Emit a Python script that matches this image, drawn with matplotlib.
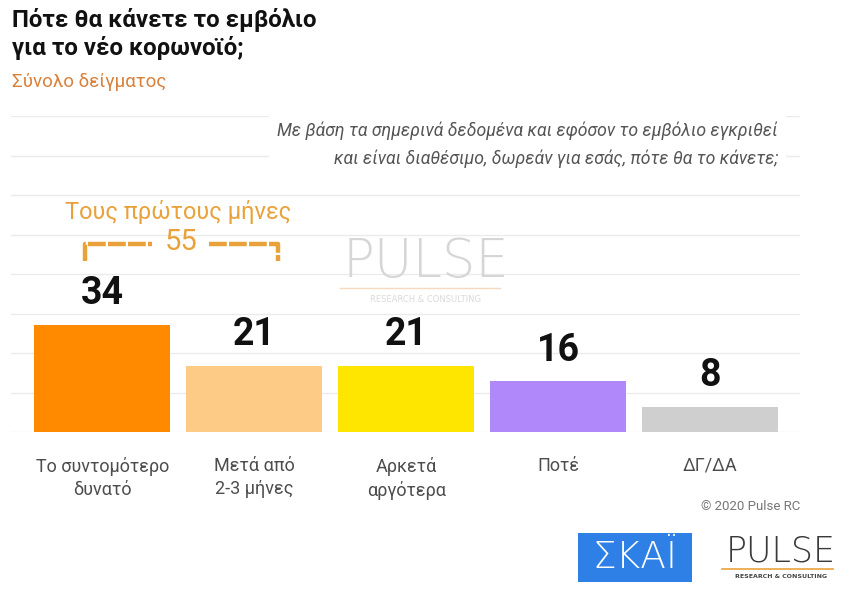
import matplotlib
matplotlib.use("Agg")
import matplotlib.pyplot as plt
from matplotlib.patches import Rectangle
from matplotlib.lines import Line2D

# data
categories = ["Το συντομότερο\nδυνατό", "Μετά από\n2-3 μήνες", "Αρκετά\nαργότερα", "Ποτέ", "ΔΓ/ΔΑ"]
values = [34, 21, 21, 16, 8]
colors = ["#FF8A00", "#FDCB86", "#FFE600", "#B088FA", "#CFCFCF"]

title = "Πότε θα κάνετε το εμβόλιο\nγια το νέο κορωνοϊό;"
subtitle = "Σύνολο δείγματος"
question = "Με βάση τα σημερινά δεδομένα και εφόσον το εμβόλιο εγκριθεί\nκαι είναι διαθέσιμο, δωρεάν για εσάς, πότε θα το κάνετε;"
bracket_label = "Τους πρώτους μήνες"
copyright_txt = "© 2020 Pulse RC"

W, H = 851, 599
FONT = ["Roboto", "DejaVu Sans"]
ORANGE = "#E9A23B"


def px(x, y):
    # pixel position -> figure fraction
    return x / W, 1 - y / H


fig = plt.figure(figsize=(W / 100, H / 100), dpi=100)
fig.patch.set_facecolor("white")

ax = fig.add_axes([11 / W, 1 - 432 / H, (800 - 11) / W, (432 - 116) / H])
ax.set_xlim(-0.6, 4.59)
ax.set_ylim(0, 100)
for g in range(9):
    ax.axhline(g * 12.5, color="#EBEBEB", lw=1, zorder=0)
ax.axis("off")

xs = list(range(len(values)))
ax.bar(xs, values, width=0.895, color=colors, zorder=2)
for x, v in zip(xs, values):
    ax.annotate(str(v), (x, v), xytext=(0, 9), textcoords="offset points",
                ha="center", va="bottom", fontsize=27, fontweight="bold",
                family=FONT, color="#111111", zorder=4)
for x, c in zip(xs, categories):
    ax.text(x, -7.8, c, ha="center", va="top", fontsize=13, family=FONT,
            color="#4D4D4D", linespacing=1.35)

# bracket over the first two bars
total = values[0] + values[1]
bx0, bx1, by, bdrop = -0.115, 1.155, 59.5, 5.5
ax.text(0.52, by + 0.5, str(total), ha="center", va="center", fontsize=21,
        family=FONT, color=ORANGE, zorder=5)
ax.plot([bx0, bx0, 0.33], [by - bdrop, by, by], color=ORANGE, lw=3.2,
        dashes=(4, 0.5), solid_capstyle="butt", zorder=5)
ax.plot([0.70, bx1, bx1], [by, by, by - bdrop], color=ORANGE, lw=3.2,
        dashes=(4, 0.5), solid_capstyle="butt", zorder=5)
ax.text(0.5, 69.5, bracket_label, ha="center", va="center", fontsize=17,
        family=FONT, color=ORANGE)

# watermark
fig.text(*px(426, 262), "PULSE", ha="center", va="center", fontsize=38,
         family="DejaVu Sans", fontweight="light", color="#D6D6D6", zorder=1)
fig.text(*px(426, 299), "RESEARCH & CONSULTING", ha="center", va="center",
         fontsize=6, family="DejaVu Sans", color="#DADADA")
fig.add_artist(Line2D([px(340, 0)[0], px(500, 0)[0]], [px(0, 288)[1]] * 2,
                      color="#F6D9BE", lw=1))

# titles
fig.text(*px(12, 8), title, ha="left", va="top", fontsize=17.3,
         fontweight="bold", family=FONT, color="#111111", linespacing=1.2)
fig.text(*px(12, 82), subtitle, ha="left", va="center", fontsize=13.5,
         family=FONT, color="#D9803A")
fig.text(*px(778, 145), question, ha="right", va="center", fontsize=12.7,
         style="italic", family=FONT, color="#555555", linespacing=1.65,
         bbox=dict(facecolor="white", edgecolor="none", pad=6))

fig.text(*px(800, 507), copyright_txt, ha="right", va="center", fontsize=9.5,
         family=FONT, color="#777777")

# logos
fig.add_artist(Rectangle(px(578, 582), 114 / W, 49 / H, transform=fig.transFigure,
                         facecolor="#2E7FE6", edgecolor="none"))
fig.text(*px(635, 558), "ΣΚΑΪ", ha="center", va="center", fontsize=27,
         family="DejaVu Sans", fontweight="light", color="white")
fig.text(*px(781, 551), "PULSE", ha="center", va="center", fontsize=25,
         family="DejaVu Sans", fontweight="light", color="#3A3A3A")
fig.add_artist(Line2D([px(722, 0)[0], px(833, 0)[0]], [px(0, 569)[1]] * 2,
                      color="#E9A23B", lw=1.2))
fig.text(*px(781, 577), "RESEARCH & CONSULTING", ha="center", va="center",
         fontsize=4.5, fontweight="bold", family="DejaVu Sans", color="#444444")

fig.savefig("out.png", dpi=100, facecolor="white")
